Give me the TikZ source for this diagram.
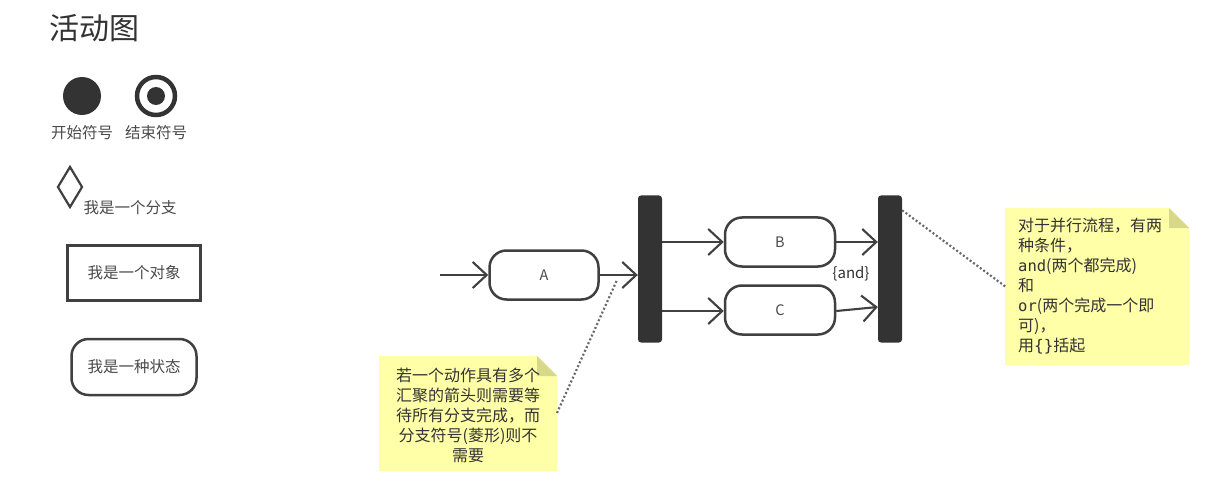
\documentclass[tikz,border=0pt]{standalone}
\usepackage{fontspec}
\setmainfont{Noto Sans CJK SC}
\newfontfamily\monofont{DejaVu Sans Mono}
\usetikzlibrary{arrows.meta,shapes.geometric}
\definecolor{dark}{HTML}{333333}
\definecolor{linec}{HTML}{404040}
\definecolor{txt}{HTML}{4A4A4A}
\definecolor{notey}{HTML}{FFFFA8}
\definecolor{notefold}{HTML}{D8D88A}
\definecolor{dotc}{HTML}{6A6A6A}
\tikzset{
  lbl/.style={inner sep=0pt, text=txt, font=\fontsize{15.5}{20}\selectfont},
  state/.style={draw=linec, line width=2.5pt, rounded corners=17pt, fill=white,
    text=txt, font=\fontsize{14.5}{18}\selectfont, inner sep=0pt},
  bar/.style={fill=dark, rounded corners=3pt, minimum width=24pt, minimum height=147pt, inner sep=0pt},
  arr/.style={draw=linec, line width=2.1pt, -{Straight Barb[length=14pt,width=26pt,line width=2.1pt]}},
  dotline/.style={draw=dotc, line width=2.2pt, dash pattern=on 2pt off 2.2pt},
  notetxt/.style={inner sep=0pt, text=dark, font=\fontsize{16}{20}\selectfont},
}
\begin{document}
\begin{tikzpicture}[x=1pt,y=-1pt]
\useasboundingbox (0,0) rectangle (1231,497);
\fill[white] (0,0) rectangle (1231,497);

% legend
\node[inner sep=0pt, text=dark, font=\fontsize{30}{36}\selectfont] (title) at (94,28) {活动图};
\node[circle, fill=dark, minimum size=38pt, inner sep=0pt] (start) at (82,96) {};
\node[circle, draw=dark, line width=4.5pt, minimum size=38pt, inner sep=0pt] (endo) at (156,96) {};
\node[circle, fill=dark, minimum size=18pt, inner sep=0pt] (endi) at (156,96) {};
\node[lbl] (startlbl) at (82,133) {开始符号};
\node[lbl] (endlbl) at (156,133) {结束符号};
\node[diamond, draw=linec, line width=2.2pt, minimum width=25pt, minimum height=41pt, inner sep=0pt] (dia) at (70,187) {};
\node[lbl] (dialbl) at (130,208) {我是一个分支};
\node[draw=linec, line width=2.5pt, minimum width=133pt, minimum height=55pt, inner sep=0pt, text=txt,
  font=\fontsize{15.5}{20}\selectfont] (obj) at (134,273) {我是一个对象};
\node[state, minimum width=125pt, minimum height=56pt, font=\fontsize{15.5}{20}\selectfont] (st) at (134,367) {我是一种状态};

% flow
\coordinate (in) at (440,275);
\node[state, minimum width=109pt, minimum height=49pt] (A) at (544,275) {A};
\node[bar] (fork) at (650,269) {};
\node[state, minimum width=110pt, minimum height=49pt] (B) at (780,242) {B};
\node[state, minimum width=110pt, minimum height=49pt] (C) at (780,310) {C};
\node[bar] (join) at (890,269) {};
\node[inner sep=0pt, text=dark, font=\fontsize{15}{18}\selectfont] (and) at (851,274) {\{and\}};

\draw[arr] (in) -- (A.west);
\draw[arr] (A.east) -- (A.east -| fork.west);
\draw[arr] (B.west -| fork.east) -- (B.west);
\draw[arr] ([yshift=-1pt]C.west -| fork.east) -- ([yshift=-1pt]C.west);
\draw[arr] (B.east) -- (B.east -| join.west);
\draw[arr] ([yshift=-1pt]C.east) -- ([yshift=3pt]C.east -| join.west);

% note 1
\fill[notey] (379,356) -- (537,356) -- (557,376) -- (557,471) -- (379,471) -- cycle;
\fill[notefold] (537,356) -- (537,376) -- (557,376) -- cycle;
\node[notetxt, align=center] (note1) at (468,415) {若一个动作具有多个\\汇聚的箭头则需要等\\待所有分支完成，而\\分支符号(菱形)则不\\需要};
\coordinate (n1c) at (617,280);
\coordinate (n1e) at (557,413);
\draw[dotline] (n1e) -- (n1c);

% note 2
\fill[notey] (1005,208) -- (1169,208) -- (1189,228) -- (1189,365) -- (1005,365) -- cycle;
\fill[notefold] (1169,208) -- (1169,228) -- (1189,228) -- cycle;
\node[notetxt, align=left, anchor=north west] (note2) at (1018,218) {对于并行流程，有两\\种条件，\\{\monofont\fontsize{15.5}{20}\selectfont and}(两个都完成)\\和\\{\monofont\fontsize{15.5}{20}\selectfont or}(两个完成一个即\\可)，\\用{\monofont\{\}}括起};
\coordinate (n2e) at (1006,287);
\draw[dotline] ([yshift=-15pt]join.north east) -- (n2e);
\end{tikzpicture}
\end{document}
